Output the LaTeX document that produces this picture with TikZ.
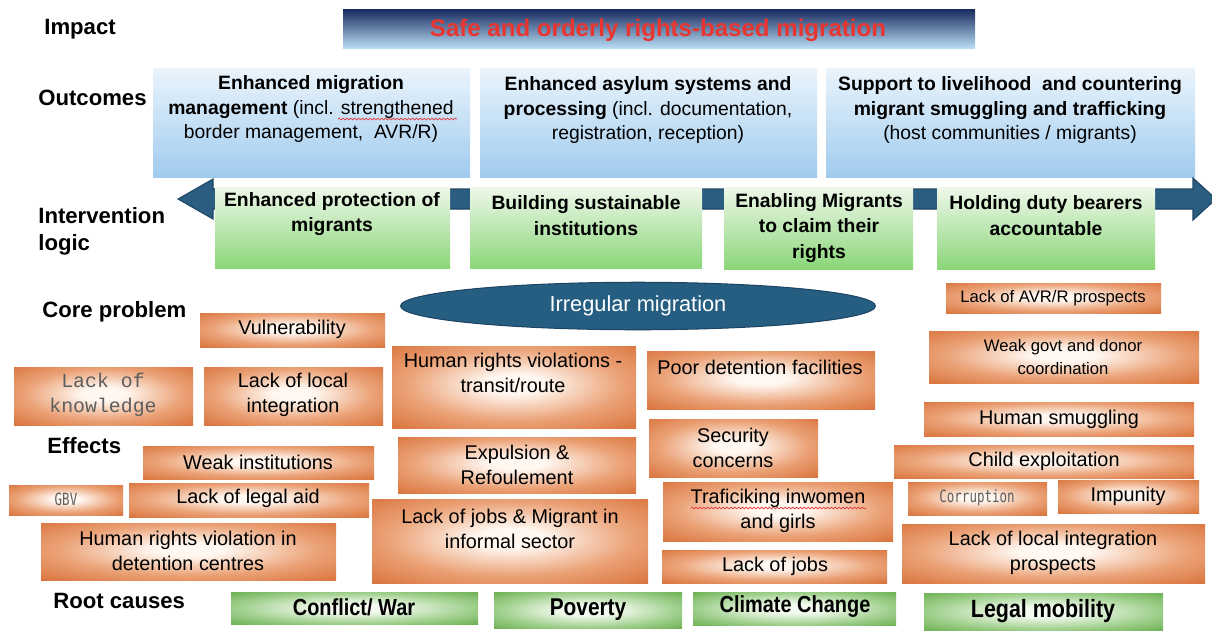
\documentclass[tikz,border=0pt]{standalone}
\usepackage{fontspec}
\setmainfont{Liberation Sans}
\newfontfamily\narrowsans[FakeStretch=0.86]{Liberation Sans}
\newfontfamily\typewriter{Liberation Mono}
\newfontfamily\slimmono[FakeStretch=0.74]{DejaVu Sans Mono}
\usetikzlibrary{shapes.geometric,decorations.pathmorphing}

\definecolor{impTop}{HTML}{172A5E}
\definecolor{impMid}{HTML}{6E9ED3}
\definecolor{impBot}{HTML}{B8DCF5}
\definecolor{impRed}{HTML}{E8352F}
\definecolor{outTop}{HTML}{EAF4FC}
\definecolor{outBot}{HTML}{A0CBEE}
\definecolor{ivTop}{HTML}{EEF8EA}
\definecolor{ivBot}{HTML}{8BD679}
\definecolor{arrowBlue}{HTML}{2B5D80}
\definecolor{arrowEdge}{HTML}{1D4665}
\definecolor{coreBlue}{HTML}{265E82}
\definecolor{orLight}{HTML}{FFF7F0}
\definecolor{orMid}{HTML}{EBA277}
\definecolor{orDark}{HTML}{D56B31}
\definecolor{grLight}{HTML}{F3FAEF}
\definecolor{grMid}{HTML}{9ECF8B}
\definecolor{grDark}{HTML}{57A23B}
\definecolor{monoGray}{HTML}{5E5E5E}
\definecolor{spellRed}{HTML}{E03A3A}

\pgfdeclareradialshading{orangeglow}{\pgfpoint{0bp}{2bp}}{color(0bp)=(orLight); color(6bp)=(orLight); color(22bp)=(orMid); color(39bp)=(orDark); color(75bp)=(orDark)}
\pgfdeclareradialshading{greenglow}{\pgfpoint{0bp}{0bp}}{color(0bp)=(grLight); color(7bp)=(grLight); color(24bp)=(grMid); color(41bp)=(grDark); color(75bp)=(grDark)}

\begin{document}
\begin{tikzpicture}[x=0.02cm,y=-0.02cm,
    heading/.style={font=\fontsize{12.6}{15.4}\selectfont\bfseries, anchor=west, align=left, inner sep=0},
    outcome/.style={top color=outTop, bottom color=outBot},
    logic/.style={top color=ivTop, bottom color=ivBot},
    cause/.style={shading=orangeglow},
    root/.style={shading=greenglow},
    otext/.style={font=\fontsize{11}{14.2}\selectfont, align=center, inner sep=0},
    ltext/.style={font=\fontsize{11}{14.6}\selectfont\bfseries, align=center, inner sep=0},
    ctext/.style={font=\fontsize{11.3}{14.2}\selectfont, align=center, inner sep=0},
    stext/.style={font=\fontsize{9.5}{13}\selectfont, align=center, inner sep=0},
    mtext/.style={font=\fontsize{9.6}{12}\selectfont\slimmono, text=monoGray, inner sep=0},
    rtext/.style={font=\fontsize{13.2}{15}\selectfont\narrowsans\bfseries, inner sep=0},
    squiggle/.style={draw=spellRed, line width=0.4pt, decorate, decoration={snake, amplitude=0.5pt, segment length=2.2pt}}]
\useasboundingbox (0,0) rectangle (1212,637);
\clip (0,0) rectangle (1212,637);

% impact bar
\shade[top color=impTop, middle color=impMid, bottom color=impBot] (343,9) rectangle (975,48);
\node[font=\fontsize{13.7}{16}\selectfont\bfseries, text=impRed, inner sep=0] (impact) at (658,30) {Safe and orderly rights-based migration};

% outcomes
\shade[outcome] (153,68) rectangle (470,177);
\shade[outcome] (480,68) rectangle (817,177);
\shade[outcome] (826,68) rectangle (1195,177);
\node[otext] (outMgmt) at (311,109) {\textbf{Enhanced migration}\\\textbf{management} (incl. strengthened\\border management,\ \ AVR/R)};
\node[otext] (outAsylum) at (648,110) {\textbf{Enhanced asylum systems and}\\\textbf{processing} (incl. documentation,\\registration, reception)};
\node[otext] (outLivelihood) at (1010,110) {\textbf{Support to livelihood\ \ and countering}\\\textbf{migrant smuggling and trafficking}\\(host communities / migrants)};
\draw[squiggle] (338,119) -- (457,119);

% intervention logic arrow and boxes
\filldraw[fill=arrowBlue, draw=arrowEdge, line width=0.6pt, line join=miter] (178,199) -- (213,179) -- (213,189) -- (1193,189) -- (1193,178) -- (1216,199) -- (1193,220) -- (1193,209) -- (213,209) -- (213,219) -- cycle;
\shade[logic] (215,187) rectangle (450,268);
\shade[logic] (470,187) rectangle (702,268);
\shade[logic] (724,187) rectangle (913,269);
\shade[logic] (937,187) rectangle (1155,269);
\node[ltext] (ivProtect) at (332,214) {Enhanced protection of\\migrants};
\node[ltext] (ivInstit) at (586,215.5) {Building sustainable\\institutions};
\node[ltext] (ivClaim) at (819,228) {Enabling Migrants\\to claim their\\rights};
\node[ltext] (ivAccount) at (1046,215.5) {Holding duty bearers\\accountable};

% core problem
\node[ellipse, fill=coreBlue, draw=arrowEdge, line width=0.6pt, minimum width=9.5cm, minimum height=0.95cm, inner sep=0, text=white, font=\fontsize{12.4}{15}\selectfont] (core) at (638,306) {Irregular migration};

% effects, left
\shade[cause] (200,313) rectangle (385,347);
\shade[cause] (14,367) rectangle (193,425);
\shade[cause] (204,367) rectangle (383,425);
\shade[cause] (143,446) rectangle (374,479);
\shade[cause] (9,485) rectangle (123,515);
\shade[cause] (129,483) rectangle (369,517);
\shade[cause] (41,523) rectangle (336,580);
\node[ctext] (vulner) at (292,329) {Vulnerability};
\node[font=\fontsize{11.3}{14.6}\selectfont\typewriter, text=monoGray, align=center, inner sep=0] (knowledge) at (103,395) {Lack of\\knowledge};
\node[ctext] (localInt) at (293,395) {Lack of local\\integration};
\node[ctext] (weakInst) at (258,462) {Weak institutions};
\node[mtext] (gbv) at (66,499) {GBV};
\node[ctext] (legalAid) at (248,498) {Lack of legal aid};
\node[ctext] (hrDetention) at (188,551) {Human rights violation in\\detention centres};

% effects, middle
\shade[cause] (392,346) rectangle (636,428);
\shade[cause] (647,351) rectangle (875,409);
\shade[cause] (398,437) rectangle (636,493);
\shade[cause] (649,419) rectangle (818,477);
\shade[cause] (372,499) rectangle (648,583);
\shade[cause] (663,482) rectangle (893,541);
\shade[cause] (662,550) rectangle (887,583);
\node[ctext] (hrTransit) at (513,373) {Human rights violations -\\transit/route};
\node[ctext] (poorDet) at (760,367) {Poor detention facilities};
\node[ctext] (expulsion) at (517,465) {Expulsion \&\\Refoulement};
\node[ctext] (security) at (733,448) {Security\\concerns};
\node[ctext] (informal) at (510,529) {Lack of jobs \& Migrant in\\informal sector};
\node[ctext] (trafficking) at (778,511) {Traficiking inwomen\\and girls};
\node[ctext] (noJobs) at (775,566) {Lack of jobs};
\draw[squiggle] (691,508) -- (866,508);

% effects, right
\shade[cause] (946,283) rectangle (1161,313);
\shade[cause] (929,331) rectangle (1199,383);
\shade[cause] (924,402) rectangle (1194,436);
\shade[cause] (894,445) rectangle (1194,478);
\shade[cause] (908,482) rectangle (1047,515);
\shade[cause] (1058,480) rectangle (1199,513);
\shade[cause] (902,524) rectangle (1205,583);
\node[stext] (avr) at (1053,298) {Lack of AVR/R prospects};
\node[stext] (coordination) at (1063,357) {Weak govt and donor\\coordination};
\node[ctext] (smuggling) at (1059,419) {Human smuggling};
\node[ctext] (childExp) at (1044,461) {Child exploitation};
\node[mtext] (corruption) at (977,498) {Corruption};
\node[ctext] (impunity) at (1128,496) {Impunity};
\node[ctext] (integration) at (1053,553) {Lack of local integration\\prospects};

% root causes
\shade[root] (231,592) rectangle (478,624);
\shade[root] (494,592) rectangle (682,628);
\shade[root] (693,592) rectangle (896,625);
\shade[root] (924,593) rectangle (1163,630);
\node[rtext] (war) at (354,607) {Conflict/ War};
\node[rtext, font=\fontsize{13.8}{15}\selectfont\narrowsans\bfseries] (poverty) at (588,610) {Poverty};
\node[rtext] (climate) at (795,607) {Climate Change};
\node[rtext, font=\fontsize{14.2}{15}\selectfont\narrowsans\bfseries] (mobility) at (1043,611) {Legal mobility};

% row headings
\node[heading] (hImpact) at (44,29) {Impact};
\node[heading] (hOutcomes) at (38,98) {Outcomes};
\node[heading] (hLogic) at (38,231) {Intervention\\logic};
\node[heading] (hCore) at (42,312) {Core problem};
\node[heading] (hEffects) at (47,446) {Effects};
\node[heading] (hRoot) at (53,601) {Root causes};
\end{tikzpicture}
\end{document}
